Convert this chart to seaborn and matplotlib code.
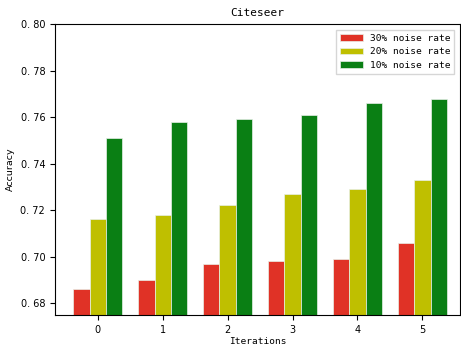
import pandas as pd
import numpy as np
import matplotlib.pyplot as plt
import seaborn as sns

iterations = [0, 1, 2, 3, 4, 5]
noise_labels = ['30% noise rate', '20% noise rate', '10% noise rate']
acc_30 = [0.686, 0.690, 0.697, 0.698, 0.699, 0.706]
acc_20 = [0.716, 0.718, 0.722, 0.727, 0.729, 0.733]
acc_10 = [0.751, 0.758, 0.759, 0.761, 0.766, 0.768]

plt.rcParams['font.family'] = ['DejaVu Sans Mono']
plt.rcParams['font.size'] = 7

df = pd.DataFrame({
    'iteration': iterations * 3,
    'accuracy': acc_30 + acc_20 + acc_10,
    'noise': [noise_labels[0]] * 6 + [noise_labels[1]] * 6 + [noise_labels[2]] * 6,
})

palette = ['#e03226', '#bfbf00', '#0a7f14']

fig = plt.figure(figsize=(4.61, 3.49), dpi=100)
ax = fig.add_axes([0.119, 0.098, 0.879, 0.833])
sns.barplot(x='iteration', y='accuracy', hue='noise', data=df, palette=palette,
            hue_order=noise_labels, width=0.75, ax=ax, edgecolor='#e8f0e8',
            linewidth=0.5, errorbar=None, saturation=1)

ax.set_ylim(0.675, 0.80)
ax.set_xlim(-0.66, 5.58)
yt = np.arange(0.68, 0.801, 0.02)
ax.set_yticks(yt)
ax.set_yticklabels([f'{v:.2f}'.replace('.', '. ') for v in yt], family='DejaVu Sans', fontsize=7)
ax.set_xticks(range(6))
ax.set_xticklabels([str(i) for i in iterations], family='DejaVu Sans', fontsize=7)
ax.set_title('Citeseer', fontsize=8)
ax.set_xlabel('Iterations', fontsize=6.8, labelpad=2)
ax.set_ylabel('Accuracy', fontsize=6.8, family='DejaVu Sans', labelpad=4)
ax.legend(loc='upper right', fontsize=6.8, handlelength=2.4, fancybox=False,
          borderaxespad=0.6)

plt.savefig('out.png', dpi=100)
